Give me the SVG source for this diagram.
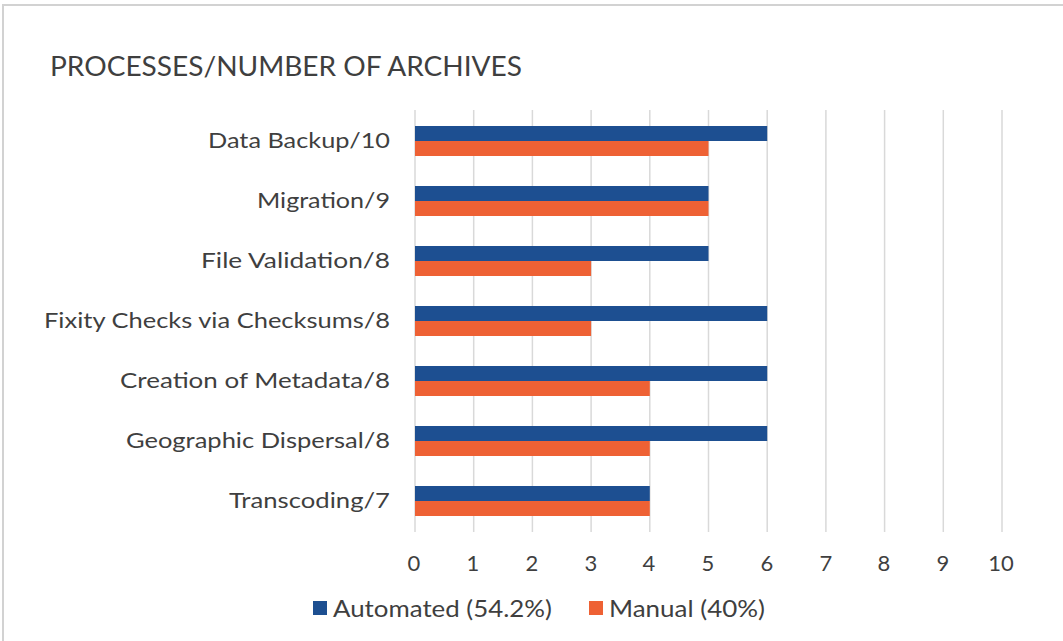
<svg xmlns="http://www.w3.org/2000/svg" width="1063" height="641" viewBox="0 0 1063 641">
<style>
text{font-family:"Lato","Liberation Sans",sans-serif;fill:#3f3f3f}
.lbl{font-size:22px;text-anchor:end}
.ax{font-size:22px;text-anchor:middle}
.leg{font-size:23px}
.ttl{font-size:26px}
.a{fill:#1d4f91}
.m{fill:#ee6134}
.g{stroke:#d9d9d9;stroke-width:1.5}
</style>
<rect x="0" y="0" width="1063" height="641" fill="#ffffff"/>
<path d="M3 641V5H1063" fill="none" stroke="#d2d2d2" stroke-width="2"/>
<text id="title" class="ttl" x="50" y="76" textLength="472" lengthAdjust="spacingAndGlyphs">PROCESSES/NUMBER OF ARCHIVES</text>
<g id="gridlines">
<line class="g" x1="415" y1="110" x2="415" y2="532"/>
<line class="g" x1="473.7" y1="110" x2="473.7" y2="532"/>
<line class="g" x1="532.4" y1="110" x2="532.4" y2="532"/>
<line class="g" x1="591.1" y1="110" x2="591.1" y2="532"/>
<line class="g" x1="649.8" y1="110" x2="649.8" y2="532"/>
<line class="g" x1="708.5" y1="110" x2="708.5" y2="532"/>
<line class="g" x1="767.2" y1="110" x2="767.2" y2="532"/>
<line class="g" x1="825.9" y1="110" x2="825.9" y2="532"/>
<line class="g" x1="884.6" y1="110" x2="884.6" y2="532"/>
<line class="g" x1="943.3" y1="110" x2="943.3" y2="532"/>
<line class="g" x1="1002" y1="110" x2="1002" y2="532"/>
</g>
<g id="cat-data-backup">
<text class="lbl" x="390" y="148" textLength="182" lengthAdjust="spacingAndGlyphs">Data Backup/10</text>
<rect class="a" x="415" y="126" width="352.2" height="15"/>
<rect class="m" x="415" y="141" width="293.5" height="15"/>
</g>
<g id="cat-migration">
<text class="lbl" x="390" y="208" textLength="133" lengthAdjust="spacingAndGlyphs">Migration/9</text>
<rect class="a" x="415" y="186" width="293.5" height="15"/>
<rect class="m" x="415" y="201" width="293.5" height="15"/>
</g>
<g id="cat-file-validation">
<text class="lbl" x="390" y="268" textLength="189" lengthAdjust="spacingAndGlyphs">File Validation/8</text>
<rect class="a" x="415" y="246" width="293.5" height="15"/>
<rect class="m" x="415" y="261" width="176.1" height="15"/>
</g>
<g id="cat-fixity">
<text class="lbl" x="390" y="328" textLength="346" lengthAdjust="spacingAndGlyphs">Fixity Checks via Checksums/8</text>
<rect class="a" x="415" y="306" width="352.2" height="15"/>
<rect class="m" x="415" y="321" width="176.1" height="15"/>
</g>
<g id="cat-metadata">
<text class="lbl" x="390" y="388" textLength="270" lengthAdjust="spacingAndGlyphs">Creation of Metadata/8</text>
<rect class="a" x="415" y="366" width="352.2" height="15"/>
<rect class="m" x="415" y="381" width="234.8" height="15"/>
</g>
<g id="cat-geographic">
<text class="lbl" x="390" y="448" textLength="264" lengthAdjust="spacingAndGlyphs">Geographic Dispersal/8</text>
<rect class="a" x="415" y="426" width="352.2" height="15"/>
<rect class="m" x="415" y="441" width="234.8" height="15"/>
</g>
<g id="cat-transcoding">
<text class="lbl" x="390" y="508" textLength="161" lengthAdjust="spacingAndGlyphs">Transcoding/7</text>
<rect class="a" x="415" y="486" width="234.8" height="15"/>
<rect class="m" x="415" y="501" width="234.8" height="15"/>
</g>
<g id="axis-labels">
<text class="ax" x="414" y="571">0</text>
<text class="ax" x="473" y="571">1</text>
<text class="ax" x="532" y="571">2</text>
<text class="ax" x="591" y="571">3</text>
<text class="ax" x="649" y="571">4</text>
<text class="ax" x="708" y="571">5</text>
<text class="ax" x="767" y="571">6</text>
<text class="ax" x="826" y="571">7</text>
<text class="ax" x="884" y="571">8</text>
<text class="ax" x="943" y="571">9</text>
<text class="ax" x="1001" y="571">10</text>
</g>
<g id="legend">
<rect class="a" x="313" y="601" width="14" height="14"/>
<text class="leg" x="333" y="617" textLength="219" lengthAdjust="spacingAndGlyphs">Automated (54.2%)</text>
<rect class="m" x="589" y="601" width="14" height="14"/>
<text class="leg" x="609" y="617" textLength="156" lengthAdjust="spacingAndGlyphs">Manual (40%)</text>
</g>
<g id="connectors"/>
</svg>
